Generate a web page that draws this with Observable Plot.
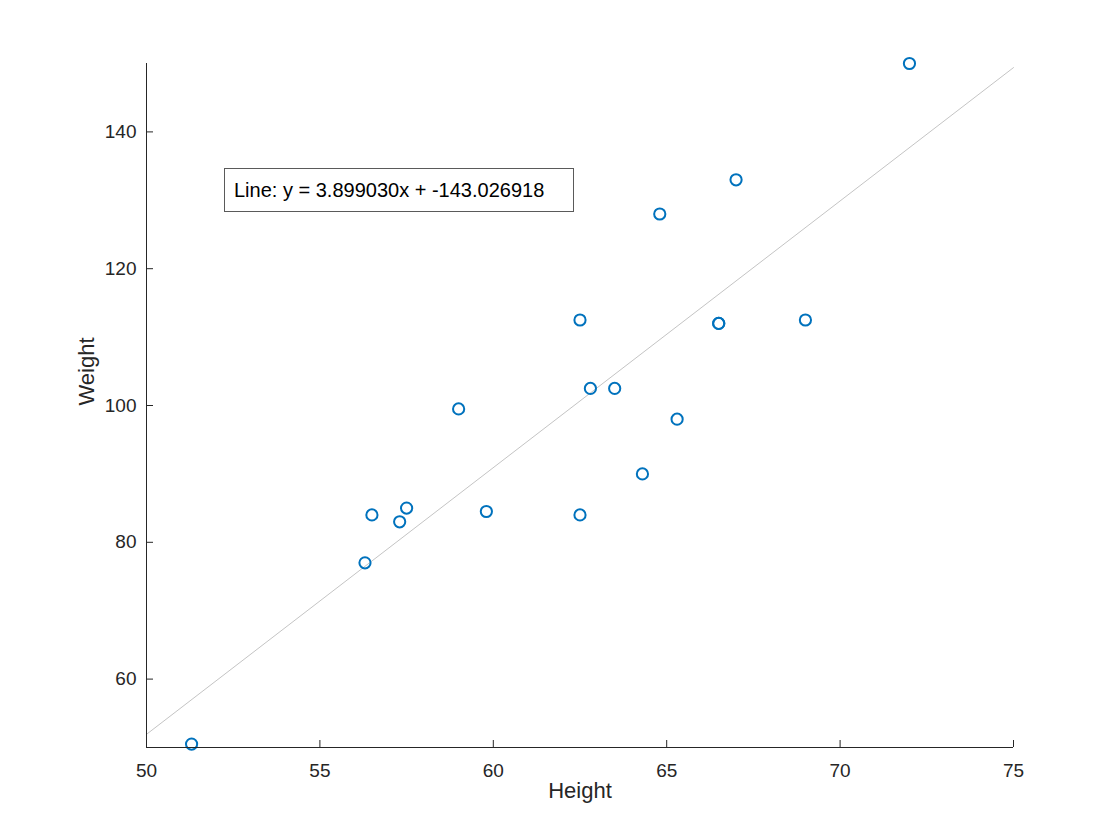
<!DOCTYPE html>
<html>
<head>
<meta charset="utf-8">
<script src="https://cdn.jsdelivr.net/npm/d3@7"></script>
<script src="https://cdn.jsdelivr.net/npm/@observablehq/plot@0.6"></script>
<style>
  html, body { margin: 0; padding: 0; background: #fff; }
  #wrap { position: relative; width: 1120px; height: 840px; }
  #note {
    position: absolute; left: 224px; top: 168px; width: 339px; height: 42px;
    border: 1px solid #5a5a5a; background: #fff;
    font-family: "Liberation Sans", Arial, Helvetica, sans-serif; font-size: 20px;
    color: #000; box-sizing: content-box;
    display: flex; align-items: center; padding: 0 0 0 9px; white-space: nowrap;
  }
</style>
</head>
<body>
<div id="wrap"><div id="note"></div></div>
<script>
// Data (SAS class dataset as shown)
const heights = [69, 56.5, 65.3, 62.8, 63.5, 57.3, 59.8, 62.5, 62.5, 59, 51.3, 64.3, 56.3, 66.5, 72, 64.8, 67, 57.5, 66.5];
const weights = [112.5, 84, 98, 102.5, 102.5, 83, 84.5, 112.5, 84, 99.5, 50.5, 90, 77, 112, 150, 128, 133, 85, 112];
const slope = 3.899030;
const intercept = -143.026918;
const xDomain = [50, 75];
const yDomain = [50, 150];
const xTicks = [50, 55, 60, 65, 70, 75];
const yTicks = [60, 80, 100, 120, 140];
const xLabel = "Height";
const yLabel = "Weight";
const noteText = `Line: y = ${slope.toFixed(6)}x + ${intercept.toFixed(6)}`;

const points = heights.map((h, i) => ({h, w: weights[i]}));
const fitLine = xDomain.map(x => ({x, y: slope * x + intercept}));

const axisColor = "#262626";
const chart = Plot.plot({
  width: 1120,
  height: 840,
  marginLeft: 146,
  marginRight: 107,
  marginTop: 63,
  marginBottom: 93,
  style: {fontFamily: "'Liberation Sans', Arial, Helvetica, sans-serif", fontSize: "19px", color: axisColor, background: "#fff"},
  x: {domain: xDomain},
  y: {domain: yDomain},
  marks: [
    Plot.line(fitLine, {x: "x", y: "y", stroke: "#c4c4c4", strokeWidth: 1}),
    Plot.dot(points, {x: "h", y: "w", r: 5.6, stroke: "#0072BD", strokeWidth: 2, fill: "none"}),
    Plot.ruleX([xDomain[0]], {stroke: axisColor, strokeWidth: 1}),
    Plot.ruleY([yDomain[0]], {stroke: axisColor, strokeWidth: 1}),
    Plot.axisX(xTicks, {anchor: "bottom", tickSize: -7, tickPadding: 23, label: null, stroke: axisColor, fill: axisColor}),
    Plot.axisY(yTicks, {anchor: "left", tickSize: -7, tickPadding: 17, label: null, stroke: axisColor, fill: axisColor}),
    Plot.text([xLabel], {frameAnchor: "bottom", dy: 50, fontSize: 22, fill: axisColor}),
    Plot.text([yLabel], {frameAnchor: "left", dx: -60, rotate: -90, fontSize: 22, fill: axisColor})
  ]
});
document.getElementById("wrap").prepend(chart);
document.getElementById("note").textContent = noteText;
</script>
</body>
</html>
